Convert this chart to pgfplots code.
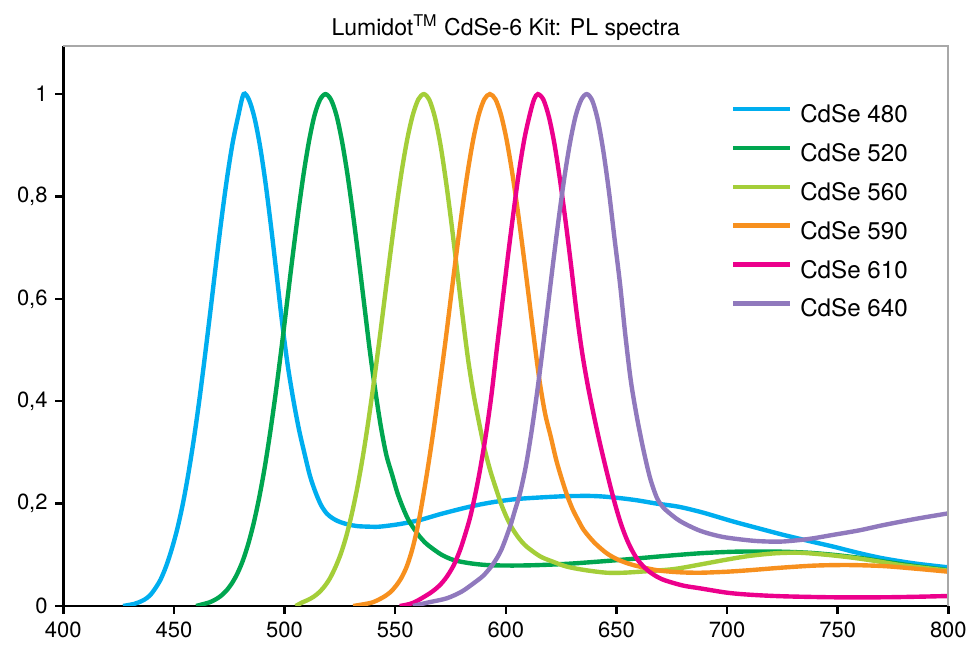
\documentclass[border=0pt]{standalone}
\usepackage{fontspec}
\setmainfont{TeX Gyre Heros}
\usepackage{pgfplots}
\pgfplotsset{compat=1.18}
\definecolor{c480}{HTML}{00AEEF}
\definecolor{c520}{HTML}{00A650}
\definecolor{c560}{HTML}{A4CE39}
\definecolor{c590}{HTML}{F7901E}
\definecolor{c610}{HTML}{EC008C}
\definecolor{c640}{HTML}{9079BD}
\definecolor{frame}{HTML}{A8A8A8}
\begin{document}
\begin{tikzpicture}
\begin{axis}[scale only axis,width=14.16cm,height=8.96cm,
 xmin=400,xmax=800,ymin=0,ymax=1.094,
 xtick={400,450,...,800},ytick={0,0.2,0.4,0.6,0.8,1},
 axis lines=left,axis line style={-,black,line width=1.1pt},
 tick style={black,line width=1.1pt},major tick length=0.128cm,tick align=outside,
 tick label style={font=\fontsize{10}{12}\selectfont},
 /pgf/number format/use comma,/pgf/number format/assume math mode=true,
 title={Lumidot\textsuperscript{TM} CdSe-6 Kit: PL spectra},
 every axis title/.style={font=\fontsize{10.5}{12.5}\selectfont,at={(0.5,1)},anchor=base,yshift=0.17cm},
 legend cell align=left,
 legend style={draw=none,fill=none,at={(0.754,0.896)},anchor=north west,
   inner sep=0pt,font=\fontsize{11}{13}\selectfont,row sep=0.28cm,
   nodes={inner sep=0pt},/tikz/every odd column/.style={column sep=0.13cm}},
 legend image code/.code={\draw[#1,line width=2pt] (0cm,0.1cm) -- (0.907cm,0.1cm);},
 every axis plot post/.append style={line width=2pt,smooth}]
% CdSe 480
\addplot[c480] coordinates {(427,0)(432,0.004)(434,0.007)(436.5,0.012)(439,0.02)(441.5,0.034)(444,0.052)(446.5,0.078)(449,0.111)(451.5,0.1505)(454,0.199)(456.5,0.258)(459,0.326)(461.5,0.403)(464,0.488)(466.5,0.577)(469,0.668)(471.5,0.756)(474,0.836)(476.5,0.904)(479,0.956)(481.5,1.0)(484,0.988)(486.5,0.952)(489,0.896)(491.5,0.823)(494,0.737)(496.5,0.644)(499,0.55)(501.5,0.468)(504,0.402)(506.5,0.345)(509,0.298)(511.5,0.254)(514,0.222)(516.5,0.197)(519,0.181)(521.5,0.172)(524,0.166)(526.5,0.162)(529,0.159)(533,0.156)(538,0.155)(543,0.155)(552,0.16)(561.2,0.168)(570,0.179)(580.8,0.191)(588,0.198)(595.9,0.204)(605,0.209)(615.4,0.212)(627,0.2145)(638,0.215)(645,0.2135)(653.1,0.21)(660,0.206)(668.2,0.2)(678,0.194)(687.8,0.184)(695,0.175)(702.8,0.165)(714,0.152)(725.4,0.139)(737,0.127)(748,0.116)(759,0.104)(770.6,0.093)(785,0.083)(800,0.0755)};
\addlegendentry{CdSe 480}
% CdSe 520
\addplot[c520] coordinates {(460,0)(463.5,0.004)(466,0.007)(468.5,0.012)(471,0.019)(473.5,0.029)(476,0.043)(478.5,0.062)(481,0.087)(483.5,0.12)(486,0.161)(488.5,0.211)(491,0.27)(493.5,0.339)(496,0.416)(498.5,0.5)(501,0.589)(503.5,0.678)(506,0.763)(508.5,0.841)(511,0.907)(513.5,0.958)(516,0.989)(518.5,1.0)(521,0.989)(523.5,0.958)(526,0.907)(528.5,0.841)(531,0.763)(533.5,0.678)(536,0.589)(538.5,0.5)(541,0.421)(543.5,0.351)(546,0.295)(548.5,0.258)(551,0.221)(553.5,0.192)(556,0.168)(558.5,0.151)(561,0.136)(563.5,0.124)(566,0.115)(571,0.1)(576.3,0.09)(583,0.084)(591.4,0.08)(603,0.079)(615.4,0.08)(630,0.083)(651.6,0.09)(670,0.097)(687.8,0.103)(702.8,0.106)(715,0.1065)(725.4,0.106)(737,0.104)(748,0.1)(760,0.094)(770.6,0.087)(785,0.078)(800,0.07)};
\addlegendentry{CdSe 520}
% CdSe 560
\addplot[c560] coordinates {(505,0)(508,0.007)(510.5,0.0117)(513,0.0177)(515.5,0.0262)(518,0.038)(520.5,0.054)(523,0.076)(525.5,0.103)(528,0.138)(530.5,0.182)(533,0.234)(535.5,0.295)(538,0.365)(540.5,0.442)(543,0.524)(545.5,0.61)(548,0.695)(550.5,0.777)(553,0.851)(555.5,0.913)(558,0.96)(560.5,0.99)(563,1.0)(565.5,0.988)(568,0.954)(570.5,0.9)(573,0.828)(575.5,0.745)(578,0.655)(580.5,0.565)(583,0.48)(585.5,0.412)(588,0.356)(590.5,0.305)(593,0.264)(595.5,0.23)(598,0.198)(600.5,0.172)(603,0.151)(606,0.132)(609.4,0.116)(615.5,0.097)(621,0.087)(627.5,0.077)(636,0.07)(645.6,0.065)(653,0.065)(660.7,0.067)(675.7,0.072)(687.8,0.081)(699,0.09)(710.4,0.098)(722,0.103)(733,0.104)(745,0.1)(755.6,0.095)(767,0.088)(778.2,0.08)(790,0.074)(800,0.069)};
\addlegendentry{CdSe 560}
% CdSe 590
\addplot[c590] coordinates {(531,0)(537.8,0.005)(540.3,0.008)(542.8,0.013)(545.3,0.019)(547.8,0.027)(550.3,0.039)(552.8,0.055)(555.3,0.078)(557.8,0.112)(560.3,0.158)(562.8,0.218)(565.3,0.285)(567.8,0.358)(570.3,0.438)(572.8,0.52)(575.3,0.607)(577.8,0.693)(580.3,0.775)(582.8,0.849)(585.3,0.912)(587.8,0.96)(590.3,0.99)(592.8,1.0)(595.3,0.99)(597.8,0.96)(600.3,0.912)(602.8,0.849)(605.3,0.775)(607.8,0.693)(610.3,0.607)(612.8,0.52)(615.3,0.438)(617.8,0.375)(620.3,0.331)(622.8,0.285)(625.3,0.248)(627.8,0.215)(630.3,0.188)(632.8,0.167)(635.3,0.148)(640,0.124)(645.6,0.103)(651,0.09)(657.6,0.08)(668.2,0.07)(678,0.066)(687.8,0.065)(700,0.067)(710.4,0.07)(725,0.075)(740,0.079)(755,0.08)(770.6,0.078)(785,0.073)(800,0.067)};
\addlegendentry{CdSe 590}
% CdSe 610
\addplot[c610] coordinates {(552,0)(558,0.006)(565.7,0.025)(570,0.04)(573.3,0.057)(576.5,0.08)(579.3,0.109)(581.5,0.138)(583.8,0.172)(586,0.214)(588.3,0.265)(591,0.335)(593.5,0.412)(596,0.505)(598.5,0.595)(601,0.685)(603.5,0.77)(606,0.85)(608.5,0.915)(611,0.963)(612.8,0.99)(614.5,1.0)(617,0.989)(619.5,0.955)(622,0.902)(624.5,0.832)(627,0.752)(629.5,0.665)(632,0.573)(634.5,0.495)(637,0.432)(639.5,0.378)(642,0.328)(644.5,0.282)(647,0.238)(649.5,0.197)(652,0.161)(654.5,0.132)(657,0.109)(660,0.088)(664,0.07)(668,0.058)(672,0.05)(680,0.04)(687.8,0.0345)(700,0.026)(710.4,0.022)(725,0.019)(748,0.017)(770,0.017)(785,0.018)(800,0.0195)};
\addlegendentry{CdSe 610}
% CdSe 640
\addplot[c640] coordinates {(558,0)(565,0.007)(573.3,0.015)(580,0.028)(585.3,0.044)(590,0.06)(594.4,0.083)(598,0.11)(601.9,0.155)(604,0.185)(606.4,0.22)(609,0.272)(611.6,0.34)(614.1,0.416)(616.6,0.5)(619.1,0.589)(621.6,0.678)(624.1,0.763)(626.6,0.841)(629.1,0.907)(631.6,0.958)(634.1,0.989)(636.6,1.0)(639.1,0.987)(641.6,0.949)(644.1,0.888)(646.6,0.81)(649.1,0.719)(651.6,0.63)(654,0.53)(656.5,0.44)(659.2,0.37)(662.2,0.305)(665.2,0.25)(668.2,0.212)(670.5,0.196)(672.7,0.186)(678.7,0.166)(687.8,0.147)(698,0.135)(710.4,0.128)(718,0.126)(725.4,0.126)(737,0.131)(748,0.139)(760,0.148)(770.6,0.158)(785,0.17)(800,0.181)};
\addlegendentry{CdSe 640}
\end{axis}
\draw[frame,line width=0.9pt] (current axis.north west) -- (current axis.north east) -- (current axis.south east);
\pgfresetboundingbox
\path (current axis.south west) ++(-1.013cm,-0.672cm) rectangle ([xshift=0.347cm,yshift=0.736cm]current axis.north east);
\end{tikzpicture}
\end{document}
